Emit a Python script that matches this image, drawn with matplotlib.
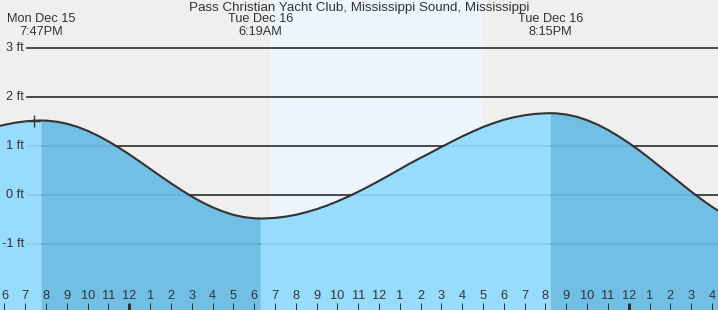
import matplotlib
matplotlib.use('Agg')
import matplotlib.pyplot as plt
import matplotlib.transforms as mtransforms
import numpy as np

plt.rcParams['font.family'] = ['Liberation Sans', 'DejaVu Sans']

title = "Pass Christian Yacht Club, Mississippi Sound, Mississippi"

# hours since Mon Dec 15 00:00, tide height in ft (read every half hour)
hours = [17.787, 18, 18.5, 19, 19.5, 19.783,
         20, 20.5, 21, 21.5, 22, 22.5, 23, 23.5, 24, 24.5, 25, 25.5, 26, 26.5,
         27, 27.5, 28, 28.5, 29, 29.5, 30, 30.317,
         30.5, 31, 31.5, 32, 32.5, 33, 33.5, 34, 34.5, 35, 35.5, 36, 36.5,
         37, 37.5, 38, 38.5, 39, 39.5, 40, 40.5, 41, 41.5, 42, 42.5, 43, 43.5, 44, 44.25,
         44.5, 45, 45.5, 46, 46.5, 47, 47.5, 48, 48.5, 49, 49.5, 50, 50.5, 51, 51.5, 52, 52.3]
heights = [1.41, 1.432, 1.474, 1.503, 1.518, 1.52,
           1.518, 1.497, 1.455, 1.392, 1.309, 1.209, 1.094, 0.966, 0.829, 0.683, 0.535, 0.386, 0.240, 0.101,
           -0.030, -0.148, -0.251, -0.336, -0.405, -0.451, -0.475, -0.48,
           -0.479, -0.467, -0.442, -0.404, -0.352, -0.289, -0.215, -0.130, -0.036, 0.066, 0.174, 0.288, 0.406,
           0.526, 0.647, 0.758, 0.868, 0.981, 1.09, 1.197, 1.295, 1.388, 1.466, 1.535, 1.588, 1.628, 1.655, 1.667, 1.67,
           1.667, 1.643, 1.597, 1.527, 1.438, 1.328, 1.202, 1.063, 0.912, 0.75, 0.58, 0.41, 0.24, 0.07, -0.09, -0.24, -0.32]

extreme_hours = [19.783, 30.317, 44.25]
extreme_days = ["Mon Dec 15", "Tue Dec 16", "Tue Dec 16"]
extreme_times = ["7:47PM", "6:19AM", "8:15PM"]

sunrise = 30.77
sunset = 40.98

now_hour = 19.42
now_height = 1.515

tick_hours = list(range(18, 53))
tick_labels = ["6", "7", "8", "9", "10", "11", "12", "1", "2", "3", "4", "5",
               "6", "7", "8", "9", "10", "11", "12", "1", "2", "3", "4", "5",
               "6", "7", "8", "9", "10", "11", "12", "1", "2", "3", "4"]
midnight_hours = [24, 48]

y_ticks = [3, 2, 1, 0, -1]
y_labels = ["3 ft", "2 ft", "1 ft", "0 ft", "-1 ft"]

W, H = 718, 310
fig = plt.figure(figsize=(W / 100, H / 100), dpi=100)
ax = fig.add_axes([0, 0, 1, 1])
x0, x1 = 17.787, 52.29
ytop, ybot = 195 / 49, (195 - 310) / 49
ax.set_xlim(x0, x1)
ax.set_ylim(ybot, ytop)
ax.axis('off')

text_color = '#333333'
ax.axvspan(x0, x1, color='#efefef', zorder=0, lw=0)
ax.axvspan(sunrise, sunset, color='#edf6fe', zorder=0.5, lw=0)

for yv in y_ticks:
    ax.axhline(yv, xmin=27 / W, xmax=1, color='#333333', lw=1.2, zorder=1)
    ax.axhline(yv, xmin=27 / W, xmax=1, color='#000000', alpha=0.08, lw=1.2, zorder=4)
for yv, lab in zip(y_ticks, y_labels):
    ax.text(24 / W, yv, lab, transform=mtransforms.blended_transform_factory(ax.transAxes, ax.transData),
            ha='right', va='center', fontsize=9.2, color=text_color, zorder=5)

h = np.array(hours)
v = np.array(heights)
rising = (h <= extreme_hours[0]) | ((h >= extreme_hours[1]) & (h <= extreme_hours[2]))
falling = ((h >= extreme_hours[0]) & (h <= extreme_hours[1])) | (h >= extreme_hours[2])
ax.fill_between(h, ybot, v, where=rising, color='#97dbfd', lw=0, zorder=2)
ax.fill_between(h, ybot, v, where=falling, color='#71bfe5', lw=0, zorder=2)
ax.plot(h, v, color='#333333', lw=1.5, zorder=3, solid_capstyle='butt', solid_joinstyle='round')
ax.plot([now_hour], [now_height], marker='+', ms=9, mew=1.0, color='#333333', zorder=6)

ty = mtransforms.blended_transform_factory(ax.transData, ax.transAxes)
for eh, d, t in zip(extreme_hours, extreme_days, extreme_times):
    ax.text(eh, 1 - 19.5 / H, d, transform=ty, ha='center', va='center', fontsize=9.2, color=text_color)
    ax.text(eh, 1 - 32 / H, t, transform=ty, ha='center', va='center', fontsize=9.2, color=text_color)
ax.text(0.5, 1 - 8.5 / H, title, transform=ax.transAxes, ha='center', va='center', fontsize=9.6, color=text_color)

for th, tl in zip(tick_hours, tick_labels):
    ax.text(th, 1 - 296 / H, tl, transform=ty, ha='center', va='center', fontsize=9.2, color=text_color, zorder=6)
    lw = 3 if th in midnight_hours else 1
    ax.plot([th, th], [0, 1 - 302.5 / H], transform=ty, color='#333333', lw=lw * 0.72, zorder=6,
            solid_capstyle='butt')

fig.savefig('out.png', dpi=100)
